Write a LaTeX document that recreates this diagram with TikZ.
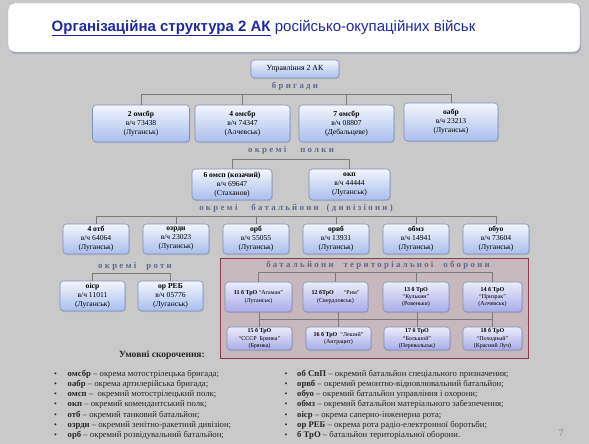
\documentclass[tikz,border=0pt]{standalone}
\usepackage{fontspec}
\setmainfont{Liberation Serif}
\newfontfamily\titlefont{Liberation Sans}
\newfontfamily\spacedfont[LetterSpace=26]{Liberation Serif}
\usetikzlibrary{shadows}
\definecolor{bg}{HTML}{C9C9C9}
\definecolor{titleblue}{HTML}{1F2A9E}
\definecolor{boxtop}{HTML}{F2F5FC}
\definecolor{boxbot}{HTML}{A9BEEE}
\definecolor{boxline}{HTML}{7D8FBD}
\definecolor{trotop}{HTML}{ECECFA}
\definecolor{trobot}{HTML}{A8ACE8}
\definecolor{conn}{HTML}{7A7A7A}
\definecolor{lab}{HTML}{5E6A8C}
\definecolor{framefill}{HTML}{C6B8BC}
\definecolor{frameline}{HTML}{8A3A48}
\begin{document}
\begin{tikzpicture}[x=1pt,y=-1pt,
  box/.style={draw=boxline, line width=0.6pt, rounded corners=3.5pt, top color=boxtop, bottom color=boxbot,
    align=center, inner sep=0pt, font=\fontsize{7.6}{9}\selectfont,
    drop shadow={opacity=0.25, shadow xshift=0.8pt, shadow yshift=-1.2pt}},
  trobox/.style={box, top color=trotop, bottom color=trobot, font=\fontsize{6}{7.4}\selectfont},
  grp/.style={text=lab, font=\spacedfont\bfseries\fontsize{8.8}{10}\selectfont, inner sep=0pt},
  con/.style={draw=conn, line width=0.6pt},
  leg/.style={font=\fontsize{8.7}{10}\selectfont, anchor=base west, inner sep=0pt, text=black!85},
  bul/.style={font=\fontsize{8}{10}\selectfont, anchor=base, inner sep=0pt, text=black!85}]
\useasboundingbox (0,0) rectangle (589,444);
\fill[bg] (0,0) rectangle (589,444);
% title
\node[draw=boxline!70, fill=white, rounded corners=7pt, minimum width=572pt, minimum height=49pt,
  drop shadow={opacity=0.35, fill=boxline!80!black, shadow xshift=1pt, shadow yshift=-2pt}] (titlebox) at (294,27.5) {};
\node[text=titleblue, font=\titlefont\fontsize{15}{18}\selectfont, inner sep=0pt] (title) at (263.5,28)
  {\underline{\textbf{Організаційна структура 2 АК}} російсько-окупаційних військ};
% top
\node[box, minimum width=88pt, minimum height=18pt, font=\fontsize{7.8}{9}\selectfont] (hq) at (295,69) {Управління 2 АК};
\node[grp] (lbrig) at (295,86.5) {бригади};
\node[box, minimum width=97pt, minimum height=37pt] (b1) at (141,123.5) {\textbf{2 омсбр}\\в/ч 73438\\(Луганськ)};
\node[box, minimum width=95pt, minimum height=37pt] (b2) at (242.5,123.5) {\textbf{4 омсбр}\\в/ч 74347\\(Алчевськ)};
\node[box, minimum width=95pt, minimum height=37pt] (b3) at (346.5,123.5) {\textbf{7 омсбр}\\в/ч 08807\\(Дебальцеве)};
\node[box, minimum width=94pt, minimum height=38pt] (b4) at (451,122) {\textbf{оабр}\\в/ч 23213\\(Луганськ)};
\coordinate (hb) at (295,94);
\draw[con] (b1.north) -- (b1.north |- hb) -- (b4.north |- hb) -- (b4.north);
\draw[con] (b2.north) -- (b2.north |- hb);
\draw[con] (b3.north) -- (b3.north |- hb);
% regiments
\node[grp] (lreg) at (291,150) {окремі\hspace{14pt}полки};
\node[box, minimum width=80pt, minimum height=31pt] (r1) at (232,184.5) {\textbf{6 омсп (козачий)}\\в/ч 69647\\(Стаханов)};
\node[box, minimum width=81pt, minimum height=31pt] (r2) at (349.5,184.5) {\textbf{окп}\\в/ч 44444\\(Луганськ)};
\coordinate (hr) at (291,159);
\draw[con] (r1.north) -- (r1.north |- hr) -- (r2.north |- hr) -- (r2.north);
% battalions
\node[grp] (lbat) at (296,208) {окремі\hspace{14pt}батальйони\hspace{8pt}(дивізіони)};
\node[box, minimum width=66pt, minimum height=30pt] (t1) at (96,239) {\textbf{4 отб}\\в/ч 64064\\(Луганськ)};
\node[box, minimum width=66pt, minimum height=30pt] (t2) at (176,239) {\textbf{озрдн}\\в/ч 23023\\(Луганськ)};
\node[box, minimum width=66pt, minimum height=30pt] (t3) at (256,239) {\textbf{орб}\\в/ч 55055\\(Луганськ)};
\node[box, minimum width=66pt, minimum height=30pt] (t4) at (336,239) {\textbf{орвб}\\в/ч 13931\\(Луганськ)};
\node[box, minimum width=66pt, minimum height=30pt] (t5) at (416,239) {\textbf{обмз}\\в/ч 14941\\(Луганськ)};
\node[box, minimum width=66pt, minimum height=30pt] (t6) at (496,239) {\textbf{обуо}\\в/ч 73604\\(Луганськ)};
\coordinate (ht) at (296,216);
\draw[con] (t1.north) -- (t1.north |- ht) -- (t6.north |- ht) -- (t6.north);
\foreach \n in {t2,t3,t4,t5} \draw[con] (\n.north) -- (\n.north |- ht);
% companies
\node[grp] (lcomp) at (135,266) {окремі\hspace{10pt}роти};
\node[box, minimum width=65pt, minimum height=30pt] (c1) at (92.5,296) {\textbf{оісp}\\в/ч 11011\\(Луганськ)};
\node[box, minimum width=65pt, minimum height=30pt] (c2) at (170.5,296) {\textbf{ор РЕБ}\\в/ч 05776\\(Луганськ)};
\coordinate (hc) at (135,273);
\draw[con] (c1.north) -- (c1.north |- hc) -- (c2.north |- hc) -- (c2.north);
% territorial defence
\node[draw=frameline, line width=0.8pt, fill=framefill, minimum width=308pt, minimum height=100pt, inner sep=0pt] (frame) at (374,308) {};
\node[grp] (ltro) at (378,265.5) {батальйони\hspace{10pt}територіальної\hspace{10pt}оборони};
\node[trobox, minimum width=67pt, minimum height=30pt] (d1) at (258.5,297) {\textbf{11 б ТрО} “Атаман”\\(Луганськ)};
\node[trobox, minimum width=65pt, minimum height=30pt] (d2) at (335.5,297) {\textbf{12 бТрО}\hspace{10pt}“Рим”\\(Свердловськ)};
\node[trobox, minimum width=66pt, minimum height=30pt] (d3) at (416,297) {\textbf{13 б ТрО}\\“Кулькин”\\(Ровеньки)};
\node[trobox, minimum width=59pt, minimum height=30pt] (d4) at (492.5,297) {\textbf{14 б ТрО}\\“Призрак”\\(Алчевськ)};
\node[trobox, minimum width=65pt, minimum height=23pt] (d5) at (259.5,338.5) {\textbf{15 б ТрО}\\“СССР\ \ Брянка”\\(Брянка)};
\node[trobox, minimum width=65pt, minimum height=23pt] (d6) at (338.5,338.5) {\textbf{16 б ТрО}\ \ “Леший”\\(Антрацит)};
\node[trobox, minimum width=66pt, minimum height=23pt] (d7) at (417,338.5) {\textbf{17 б ТрО}\\“Большой”\\(Перевальськ)};
\node[trobox, minimum width=59pt, minimum height=23pt] (d8) at (492.5,338.5) {\textbf{18 б ТрО}\\“Походный”\\(Красний Луч)};
\coordinate (hd) at (378,272);
\coordinate (he) at (378,319);
\draw[con] (d1.north) -- (d1.north |- hd) -- (d4.north |- hd) -- (d4.north);
\foreach \n in {d2,d3} \draw[con] (\n.north) -- (\n.north |- hd);
\draw[con] (d5.north |- he) -- (d8.north |- he);
\draw[con] (d1.south -| d5.north) -- (d5.north);
\draw[con] (d2.south -| d6.north) -- (d6.north);
\draw[con] (d3.south -| d7.north) -- (d7.north);
\draw[con] (d4.south -| d8.north) -- (d8.north);
% legend
\node[font=\bfseries\fontsize{9.5}{11}\selectfont, inner sep=0pt, text=black!85] (legt) at (162,355) {Умовні скорочення:};
\foreach \t [count=\i from 0] in {
  {\textbf{омсбр} – окрема мотострілецька бригада;},
  {\textbf{оабр} – окрема артилерійська бригада;},
  {\textbf{омсп} –\ \ окремий мотострілецький полк;},
  {\textbf{окп} – окремий комендантський полк;},
  {\textbf{отб} – окремий танковий батальйон;},
  {\textbf{озрдн} – окремий зенітно-ракетний дивізіон;},
  {\textbf{орб} – окремий розвідувальний батальйон;}} {
  \node[bul] at (55.5,376.5+10.15*\i) {•};
  \node[leg] at (67.5,376.5+10.15*\i) {\t};
}
\foreach \t [count=\i from 0] in {
  {\textbf{об СпП} – окремий батальйон спеціального призначення;},
  {\textbf{орвб} – окремий ремонтно-відновлювальний батальйон;},
  {\textbf{обуо} – окремий батальйон управління і охорони;},
  {\textbf{обмз} – окремий батальйон матеріального забезпечення;},
  {\textbf{оісp} – окрема саперно-інженерна рота;},
  {\textbf{ор РЕБ} – окрема рота радіо-електронної боротьби;},
  {\textbf{б ТрО} – батальйон територіальної оборони.}} {
  \node[bul] at (286,376.5+10.15*\i) {•};
  \node[leg] at (297,376.5+10.15*\i) {\t};
}
\node[text=black!45, font=\fontsize{10}{12}\selectfont, inner sep=0pt] (pnum) at (561,433) {7};
\end{tikzpicture}
\end{document}
